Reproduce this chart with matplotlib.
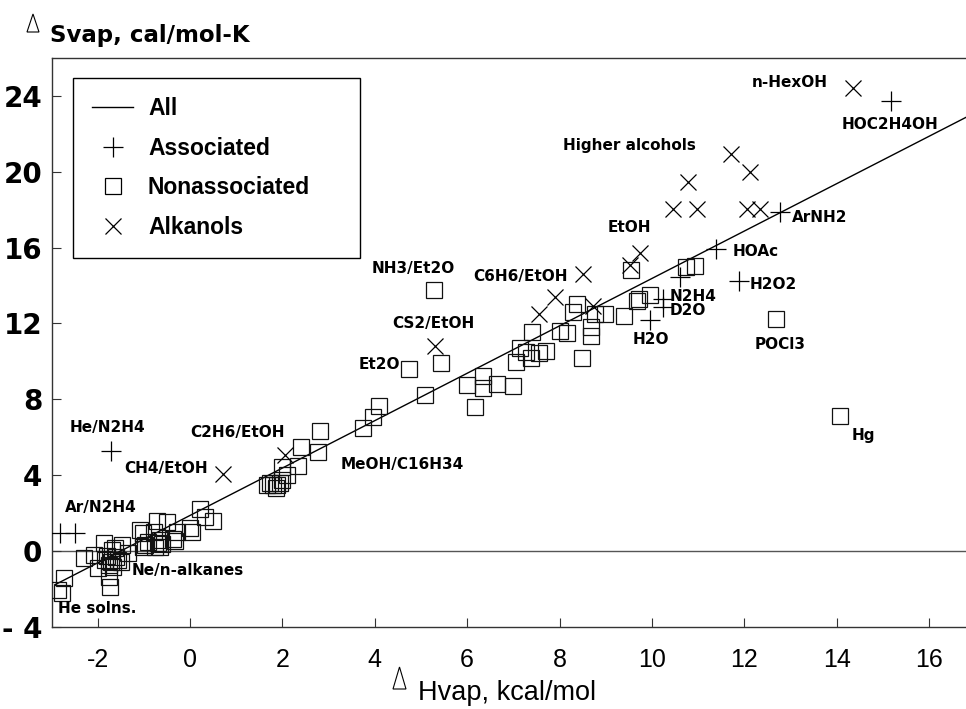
import matplotlib
matplotlib.use('Agg')
import matplotlib.pyplot as plt
from matplotlib.patches import Polygon
from matplotlib.lines import Line2D
import numpy as np

# ---------------- data ----------------
assoc_x = [-1.72, -2.81, -2.49, 15.17, 12.77, 11.39, 10.61, 11.88, 10.24, 10.24, 9.96]
assoc_y = [5.25, 0.95, 0.95, 23.75, 17.89, 15.94, 14.46, 14.25, 13.30, 12.88, 12.19]

alk_x = [14.35, 11.71, 12.12, 10.78, 10.45, 10.97, 12.06, 12.34, 9.74, 9.52,
         8.51, 7.90, 7.55, 8.72, 5.30, 0.71, 2.06]
alk_y = [24.43, 20.95, 20.00, 19.47, 18.05, 18.05, 18.05, 18.05, 15.73, 15.09,
         14.62, 13.40, 12.50, 12.93, 10.82, 4.06, 5.07]

nonassoc_x = [-2.87, -2.77, -2.74, -2.30, -2.08, -2.00, -1.87, -1.84, -1.80, -1.75,
              -1.72, -1.66, -1.76, -1.73, -1.62, -1.68, -1.60, -1.55, -1.50, -1.47,
              -1.34, -1.08, -1.02, -1.02, -0.97, -0.90, -0.78, -0.76, -0.72, -0.70,
              -0.66, -0.65, -0.60, -0.50, -0.37, -0.32, -0.29, 0.00, 0.05, 0.22,
              0.32, 0.50,
              1.66, 1.73, 1.80, 1.88, 1.95, 1.99, 1.85, 2.00, 2.10, 2.33, 2.40, 2.78, 2.81,
              3.74, 3.97, 4.08, 5.08, 4.73, 5.44, 5.29,
              6.00, 6.17, 6.34, 6.34, 6.64, 6.99,
              7.14, 7.28, 7.06, 7.39, 7.41, 7.56, 7.71, 8.00, 8.16, 8.29, 8.37, 8.48,
              8.69, 8.69, 8.77, 8.98, 9.39, 9.55, 9.68, 9.72, 9.96, 10.74, 10.93,
              12.68, 14.08]
nonassoc_y = [-2.05, -2.20, -1.45, -0.37, -0.20, -0.90, 0.40, -0.47, -0.25, -0.75,
              -0.60, -0.85, -1.38, -1.90, 0.15, 0.02, -0.30, -0.50, -0.60, 0.30,
              -0.10, 1.10, 0.95, 0.20, 0.32, 0.45, 1.00, 0.20, 1.55, 0.42,
              0.22, 0.55, 0.35, 1.50, 0.60, 0.50, 1.00, 1.20, 0.98, 2.20,
              1.80, 1.55,
              3.47, 3.58, 3.47, 3.47, 3.60, 3.74, 3.30, 4.40, 4.00, 4.50, 5.50, 5.20, 6.30,
              6.50, 7.05, 7.65, 8.20, 9.60, 9.90, 13.74,
              8.76, 7.60, 9.20, 8.60, 8.80, 8.70,
              10.70, 10.50, 9.95, 10.15, 11.55, 10.45, 10.55, 11.60, 11.50, 12.60, 13.00, 10.20,
              11.80, 11.35, 12.50, 12.50, 12.40, 14.80, 13.20, 13.30, 13.50, 15.00, 15.05,
              12.24, 7.10]

fit_slope = 1.25
fit_intercept = 1.87
fit_x_range = [-2.93, 16.8]

label_texts = ["He/N2H4", "Ar/N2H4", "CH4/EtOH", "C2H6/EtOH", "MeOH/C16H34",
               "Ne/n-alkanes", "He solns.", "Et2O", "CS2/EtOH", "NH3/Et2O",
               "C6H6/EtOH", "EtOH", "Higher alcohols", "n-HexOH", "HOC2H4OH",
               "ArNH2", "HOAc", "H2O2", "N2H4", "D2O", "H2O", "POCl3", "Hg"]
label_x = [-2.60, -2.71, -1.43, 0.00, 3.25, -1.26, -2.86, 3.66, 4.37, 3.94,
           6.13, 9.03, 8.07, 12.16, 14.11, 13.03, 11.75, 12.12, 10.39, 10.39,
           9.59, 12.23, 14.33]
label_y = [6.49, 2.27, 4.33, 6.23, 4.54, -1.06, -3.06, 9.82, 11.98, 14.88,
           14.46, 17.04, 21.37, 24.70, 22.48, 17.57, 15.78, 14.04, 13.40, 12.66,
           11.13, 10.90, 6.07]

xticks = [-2, 0, 2, 4, 6, 8, 10, 12, 14, 16]
xtick_labels = ["-2", "0", "2", "4", "6", "8", "10", "12", "14", "16"]
yticks = [-4, 0, 4, 8, 12, 16, 20, 24]
ytick_labels = ["- 4", "0", "4", "8", "12", "16", "20", "24"]

legend_labels = ["All", "Associated", "Nonassociated", "Alkanols"]

# ---------------- figure ----------------
W, H = 966, 709
fig = plt.figure(figsize=(W / 100, H / 100), dpi=100)
ax = fig.add_axes([51.5 / W, (H - 626.7) / H, (W - 51.5) / W, (626.7 - 58) / H])
ax.set_xlim(-3, 16.8)
ax.set_ylim(-4, 26)

for s in ['left', 'bottom', 'top']:
    ax.spines[s].set_color('#333333')
    ax.spines[s].set_linewidth(1.0)
ax.spines['right'].set_visible(False)

ax.axhline(0, color='#555555', lw=1.0, zorder=1)
fx = np.array(fit_x_range)
ax.plot(fx, fit_slope * fx + fit_intercept, color='black', lw=1.0, zorder=2)

mew = 0.9
ax.plot(nonassoc_x, nonassoc_y, ls='none', marker='s', ms=11, mfc='none',
        mec='#111111', mew=mew, zorder=3)
ax.plot(assoc_x, assoc_y, ls='none', marker='+', ms=14.5, mec='black', mew=mew, zorder=4)
ax.plot(alk_x, alk_y, ls='none', marker='x', ms=12, mec='black', mew=mew, zorder=4)

for t, x, y in zip(label_texts, label_x, label_y):
    ax.text(x, y, t, fontsize=11, fontweight='bold', family='DejaVu Sans',
            ha='left', va='center', zorder=5)

ax.set_xticks(xticks)
ax.set_xticklabels(xtick_labels, family='Liberation Sans', fontsize=18)
ax.set_yticks(yticks)
ax.set_yticklabels(ytick_labels, family='DejaVu Sans', fontweight='bold', fontsize=20)
ax.tick_params(axis='x', direction='in', length=6.5, width=0.8, pad=15, colors='#333333',
               labelcolor='black')
ax.tick_params(axis='y', direction='in', length=6.5, width=0.8, pad=6.5, colors='#333333',
               labelcolor='black')

handles = [
    Line2D([], [], color='black', lw=1.0),
    Line2D([], [], ls='none', marker='+', ms=14.5, mec='black', mew=mew),
    Line2D([], [], ls='none', marker='s', ms=11, mfc='none', mec='black', mew=mew),
    Line2D([], [], ls='none', marker='x', ms=12, mec='black', mew=mew),
]
leg = ax.legend(handles, legend_labels, loc='upper left',
                bbox_to_anchor=(0.0235, 0.5, 0.3138, 0.4648), mode='expand',
                borderaxespad=0, frameon=True, fancybox=False, framealpha=1,
                edgecolor='black', handlelength=1.78, handletextpad=0.64,
                labelspacing=0.72, borderpad=0.85,
                prop={'family': 'Liberation Sans', 'weight': 'bold', 'size': 16.5})
leg.get_frame().set_linewidth(1.0)

# axis labels with outlined delta triangles
def px(x, y):
    return (x / W, 1 - y / H)

fig.text(*px(50, 42), "Svap, cal/mol-K", family='DejaVu Sans', fontweight='bold',
         fontsize=16.5, ha='left', va='baseline')
fig.patches.append(Polygon([px(27, 32), px(39, 32), px(33, 14)], closed=True, fill=False,
                           edgecolor='black', lw=0.8, transform=fig.transFigure))

fig.text(*px(418, 700), "Hvap, kcal/mol", family='Liberation Sans', fontsize=19.5,
         ha='left', va='baseline')
fig.patches.append(Polygon([px(393, 689), px(406, 689), px(399.5, 667)], closed=True,
                           fill=False, edgecolor='black', lw=0.8, transform=fig.transFigure))

fig.savefig('out.png', dpi=100)
